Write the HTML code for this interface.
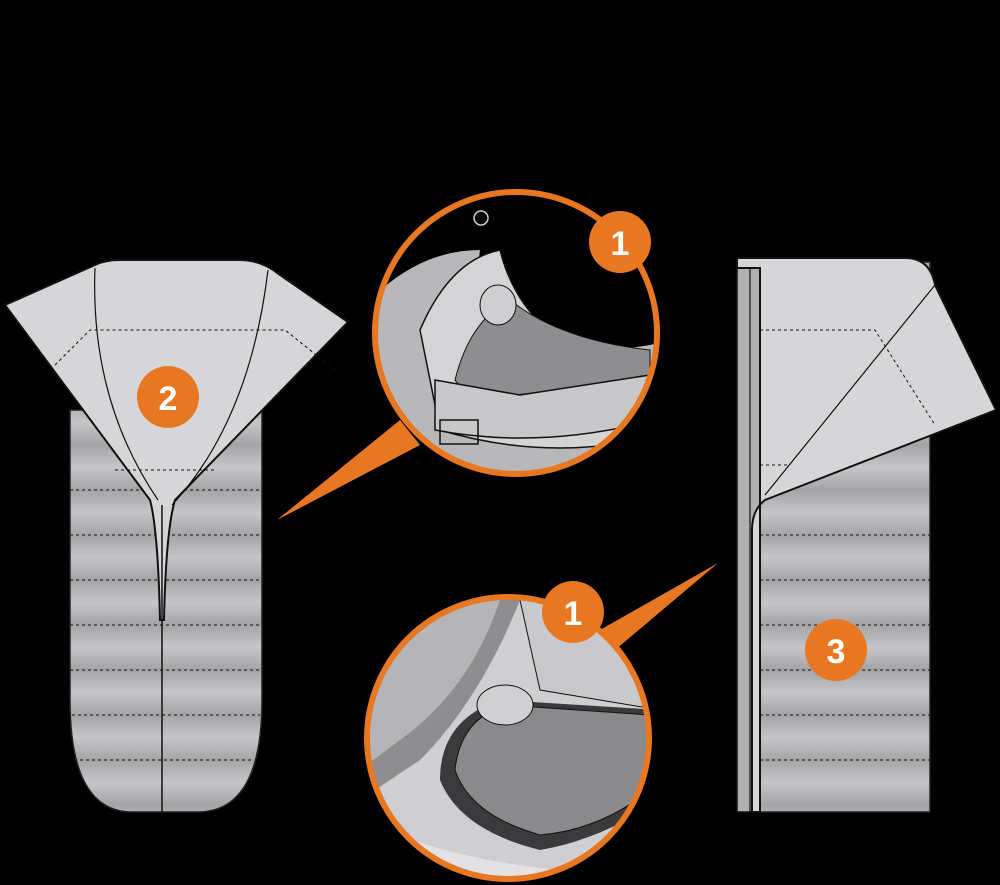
<!DOCTYPE html>
<html><head><meta charset="utf-8"><style>html,body{margin:0;padding:0;background:#000}svg{display:block}</style></head><body>
<svg width="1000" height="885" viewBox="0 0 1000 885" xmlns="http://www.w3.org/2000/svg">
<defs>
<linearGradient id="band" x1="0" y1="0" x2="0" y2="1">
<stop offset="0" stop-color="#a4a4a6"/><stop offset="0.5" stop-color="#c6c6c8"/><stop offset="1" stop-color="#a4a4a6"/>
</linearGradient>
<pattern id="stripes" x="0" y="490" width="10" height="45" patternUnits="userSpaceOnUse">
<rect width="10" height="45" fill="url(#band)"/>
</pattern>
<clipPath id="c1"><circle cx="516" cy="333" r="141"/></clipPath>
<clipPath id="c2"><circle cx="508" cy="738" r="141"/></clipPath>
</defs>
<rect width="1000" height="885" fill="#000"/>

<path d="M70,410 L262,410 L262,700 Q262,810 200,812 L130,812 Q70,810 70,700 Z" fill="url(#stripes)" stroke="#222" stroke-width="1.5"/>
<g stroke="#111" stroke-dasharray="3,3" stroke-width="1">
<line x1="70" y1="490" x2="262" y2="490"/><line x1="70" y1="535" x2="262" y2="535"/><line x1="70" y1="580" x2="262" y2="580"/><line x1="70" y1="625" x2="262" y2="625"/><line x1="70" y1="670" x2="262" y2="670"/><line x1="72" y1="715" x2="260" y2="715"/><line x1="80" y1="760" x2="252" y2="760"/>
</g>
<path d="M5,305 L95,265 Q105,260 120,260 L240,260 Q262,260 280,275 L348,322 L175,500 Q166,530 164,620 L160,620 Q158,530 150,500 Z" fill="#d6d6d8" stroke="#111" stroke-width="2"/>
<path d="M95,268 Q90,400 158,500 M268,270 Q250,420 172,505" stroke="#111" stroke-width="1.2" fill="none"/>
<path d="M55,365 L90,330 L285,330 L335,370 M115,470 L215,470" stroke="#111" stroke-width="1" stroke-dasharray="3,3" fill="none"/>
<line x1="162" y1="505" x2="162" y2="812" stroke="#111" stroke-width="1.5"/>
<circle cx="168" cy="397" r="31" fill="#e87722"/>
<text x="168" y="410" font-family="Liberation Sans,sans-serif" font-weight="bold" font-size="34" fill="#fff" text-anchor="middle">2</text>

<path d="M400,420 L277,520 L420,445 Z" fill="#e87722"/>
<circle cx="516" cy="333" r="141" fill="#000"/>
<g clip-path="url(#c1)">
<path d="M370,300 Q420,250 480,250 Q470,330 560,345 Q620,355 670,340 L670,480 L370,480 Z" fill="#b8b8ba"/>
<path d="M420,330 Q450,260 500,250 Q520,330 600,360 L650,370 L640,440 Q540,460 440,430 Z" fill="#d4d4d6" stroke="#111" stroke-width="1.5"/>
<path d="M455,380 Q470,320 510,300 Q560,340 650,350 L650,380 Q560,390 470,400 Z" fill="#8e8e90" stroke="#111" stroke-width="1"/>
<ellipse cx="498" cy="305" rx="18" ry="20" fill="#cfcfd1" stroke="#111"/>
<path d="M435,380 L520,395 L650,375 L655,420 Q540,450 435,430 Z" fill="#c8c8ca" stroke="#111" stroke-width="1.5"/>
<rect x="440" y="420" width="38" height="24" fill="none" stroke="#111" stroke-width="1.5"/>
</g>
<circle cx="516" cy="333" r="141" fill="none" stroke="#e87722" stroke-width="6"/>
<circle cx="620" cy="242" r="31" fill="#e87722"/>
<text x="620" y="255" font-family="Liberation Sans,sans-serif" font-weight="bold" font-size="34" fill="#fff" text-anchor="middle">1</text>
<circle cx="481" cy="218" r="7" fill="none" stroke="#ccc" stroke-width="1.5"/>

<path d="M615,650 L718,563 L600,630 Z" fill="#e87722"/>
<circle cx="508" cy="738" r="141" fill="#cfcfd1"/>
<g clip-path="url(#c2)">
<path d="M360,600 L520,600 Q480,700 420,760 L360,800 Z" fill="#8e8e90"/>
<path d="M360,600 L500,600 Q470,690 400,740 L360,770 Z" fill="#b5b5b7"/>
<path d="M520,600 L540,690 L660,710 L660,600 Z" fill="#c9c9cb" stroke="#111"/>
<path d="M440,780 Q440,720 500,700 L660,710 L660,800 Q600,840 540,850 Q460,830 440,780 Z" fill="#3a3a3c"/>
<path d="M455,770 Q460,720 505,705 L650,715 L650,790 Q600,830 540,835 Q470,815 455,770 Z" fill="#8a8a8c" stroke="#111"/>
<ellipse cx="505" cy="705" rx="28" ry="20" fill="#d0d0d2" stroke="#111"/>
<path d="M360,820 Q450,860 560,870 L660,860 L660,900 L360,900 Z" fill="#e2e2e4"/>
</g>
<circle cx="508" cy="738" r="141" fill="none" stroke="#e87722" stroke-width="6"/>
<circle cx="573" cy="612" r="31" fill="#e87722"/>
<text x="573" y="625" font-family="Liberation Sans,sans-serif" font-weight="bold" font-size="34" fill="#fff" text-anchor="middle">1</text>

<rect x="737" y="262" width="193" height="550" fill="url(#stripes)" stroke="#222" stroke-width="1.5"/>
<g stroke="#111" stroke-dasharray="3,3" stroke-width="1">
<line x1="760" y1="535" x2="930" y2="535"/><line x1="760" y1="580" x2="930" y2="580"/><line x1="760" y1="625" x2="930" y2="625"/><line x1="760" y1="670" x2="930" y2="670"/><line x1="760" y1="715" x2="930" y2="715"/><line x1="760" y1="760" x2="930" y2="760"/>
</g>
<rect x="737" y="262" width="23" height="550" fill="#b0b0b2" stroke="#111" stroke-width="1.5"/>
<line x1="750" y1="268" x2="750" y2="812" stroke="#111" stroke-width="1.2"/>
<path d="M737,258 L905,258 Q930,258 935,285 L996,410 L765,500 Q752,510 752,530 L752,812 L760,812 L760,268 L737,268 Z" fill="#d6d6d8" stroke="#111" stroke-width="2"/>
<path d="M935,285 L765,495" stroke="#111" stroke-width="1.2" fill="none"/>
<path d="M760,330 L875,330 L935,425 M760,465 L790,465" stroke="#111" stroke-width="1" stroke-dasharray="3,3" fill="none"/>
<circle cx="836" cy="650" r="31" fill="#e87722"/>
<text x="836" y="663" font-family="Liberation Sans,sans-serif" font-weight="bold" font-size="34" fill="#fff" text-anchor="middle">3</text>
</svg>
</body></html>
